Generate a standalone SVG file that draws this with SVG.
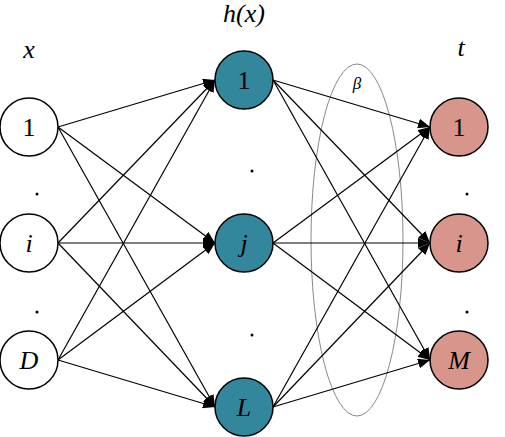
<svg xmlns="http://www.w3.org/2000/svg" width="505" height="437" viewBox="0 0 505 437" font-family="Liberation Serif, serif">
<style>
.n{stroke:#000;stroke-width:1.5}
.in{fill:#fff}.hid{fill:#33879c}.out{fill:#d8958b}
text{font-family:"Liberation Serif",serif;font-size:26px;text-anchor:middle;fill:#000}
.it{font-style:italic}
.c line{stroke:#000;stroke-width:1.2;marker-end:url(#a)}
.d{fill:#000}
</style>
<defs>
<marker id="a" viewBox="0 0 12 10" refX="12" refY="5" markerWidth="12" markerHeight="10" markerUnits="userSpaceOnUse" orient="auto">
<path d="M0,0 L12,5 L0,10 Z" fill="#000"/>
</marker>
</defs>
<rect width="505" height="437" fill="#fff"/>
<text class="it" x="29" y="58">x</text>
<text class="it" x="244" y="22">h(x)</text>
<text class="it" x="461" y="56">t</text>
<ellipse cx="357" cy="240" rx="46" ry="176" fill="none" stroke="#888" stroke-width="1"/>
<text class="it" x="357" y="89" style="font-size:17px">β</text>
<g class="c">
<line x1="58" y1="127" x2="215" y2="80"/>
<line x1="58" y1="127" x2="215" y2="243"/>
<line x1="58" y1="127" x2="215" y2="407"/>
<line x1="58" y1="243" x2="215" y2="80"/>
<line x1="58" y1="243" x2="215" y2="243"/>
<line x1="58" y1="243" x2="215" y2="407"/>
<line x1="58" y1="360" x2="215" y2="80"/>
<line x1="58" y1="360" x2="215" y2="243"/>
<line x1="58" y1="360" x2="215" y2="407"/>
<line x1="273" y1="80" x2="430" y2="127"/>
<line x1="273" y1="80" x2="430" y2="243"/>
<line x1="273" y1="80" x2="430" y2="360"/>
<line x1="273" y1="243" x2="430" y2="127"/>
<line x1="273" y1="243" x2="430" y2="243"/>
<line x1="273" y1="243" x2="430" y2="360"/>
<line x1="273" y1="407" x2="430" y2="127"/>
<line x1="273" y1="407" x2="430" y2="243"/>
<line x1="273" y1="407" x2="430" y2="360"/>
</g>
<g id="x1"><circle class="n in" cx="29" cy="127" r="29"/><text x="29" y="136">1</text></g>
<g id="xi"><circle class="n in" cx="29" cy="243" r="29"/><text class="it" x="29" y="252">i</text></g>
<g id="xD"><circle class="n in" cx="29" cy="360" r="29"/><text class="it" x="29" y="369">D</text></g>
<g id="h1"><circle class="n hid" cx="244" cy="80" r="29"/><text x="244" y="89">1</text></g>
<g id="hj"><circle class="n hid" cx="244" cy="243" r="29"/><text class="it" x="244" y="252">j</text></g>
<g id="hL"><circle class="n hid" cx="244" cy="407" r="29"/><text class="it" x="244" y="416">L</text></g>
<g id="t1"><circle class="n out" cx="459" cy="127" r="29"/><text x="459" y="136">1</text></g>
<g id="ti"><circle class="n out" cx="459" cy="243" r="29"/><text class="it" x="459" y="252">i</text></g>
<g id="tM"><circle class="n out" cx="459" cy="360" r="29"/><text class="it" x="459" y="369">M</text></g>
<circle class="d" cx="37" cy="194" r="1.5"/>
<circle class="d" cx="37" cy="312" r="1.5"/>
<circle class="d" cx="252" cy="171" r="1.5"/>
<circle class="d" cx="252" cy="335" r="1.5"/>
<circle class="d" cx="467" cy="194" r="1.5"/>
<circle class="d" cx="467" cy="312" r="1.5"/>
</svg>
